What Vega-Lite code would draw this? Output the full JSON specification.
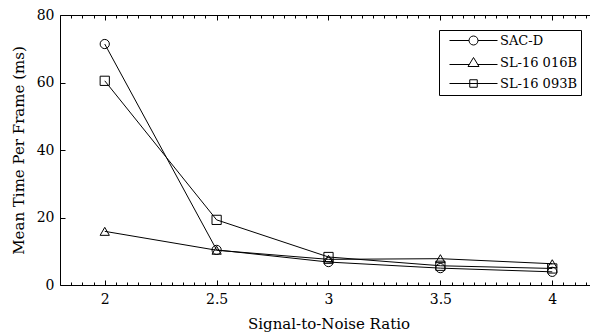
{
  "$schema": "https://vega.github.io/schema/vega-lite/v6.json",
  "autosize": {"type": "none"},
  "padding": {"left": 60, "top": 15, "right": 0, "bottom": 48},
  "width": 537,
  "height": 270,
  "background": "white",
  "config": {
    "view": {"stroke": null},
    "font": "DejaVu Serif",
    "axis": {
      "domainColor": "black",
      "domainWidth": 1,
      "tickColor": "black",
      "tickWidth": 1,
      "grid": false,
      "labelFont": "DejaVu Serif",
      "labelFontSize": 14,
      "labelColor": "black",
      "titleFont": "DejaVu Serif",
      "titleFontSize": 15,
      "titleFontWeight": "normal",
      "titleColor": "black"
    },
    "legend": {
      "labelFont": "DejaVu Serif"
    }
  },
  "data": {
    "values": [
      {"snr": 2, "series": "SAC-D", "time": 71.4},
      {"snr": 2.5, "series": "SAC-D", "time": 10.4},
      {"snr": 3, "series": "SAC-D", "time": 6.8},
      {"snr": 3.5, "series": "SAC-D", "time": 5.0},
      {"snr": 4, "series": "SAC-D", "time": 3.9},
      {"snr": 2, "series": "SL-16 016B", "time": 15.9},
      {"snr": 2.5, "series": "SL-16 016B", "time": 10.3},
      {"snr": 3, "series": "SL-16 016B", "time": 7.6},
      {"snr": 3.5, "series": "SL-16 016B", "time": 7.8},
      {"snr": 4, "series": "SL-16 016B", "time": 6.3},
      {"snr": 2, "series": "SL-16 093B", "time": 60.5},
      {"snr": 2.5, "series": "SL-16 093B", "time": 19.3},
      {"snr": 3, "series": "SL-16 093B", "time": 8.3},
      {"snr": 3.5, "series": "SL-16 093B", "time": 5.7},
      {"snr": 4, "series": "SL-16 093B", "time": 4.9}
    ]
  },
  "layer": [
    {
      "mark": {"type": "line", "color": "black", "strokeWidth": 1},
      "encoding": {
        "x": {
          "field": "snr", "type": "quantitative",
          "scale": {"domain": [1.8, 4.2], "nice": false, "zero": false},
          "axis": {
            "orient": "bottom",
            "title": "Signal-to-Noise Ratio",
            "values": [2, 2.5, 3, 3.5, 4],
            "format": "~g",
            "tickSize": -5,
            "labelPadding": 12,
            "labelFlush": false,
            "titlePadding": 10
          }
        },
        "y": {
          "field": "time", "type": "quantitative",
          "scale": {"domain": [0, 80], "nice": false},
          "axis": {
            "orient": "left",
            "title": "Mean Time Per Frame (ms)",
            "values": [0, 20, 40, 60, 80],
            "tickSize": -5,
            "labelPadding": 11,
            "titlePadding": 10
          }
        },
        "detail": {"field": "series"}
      }
    },
    {
      "mark": {"type": "point", "filled": false, "color": "black", "strokeWidth": 1, "opacity": 1},
      "encoding": {
        "x": {
          "field": "snr", "type": "quantitative",
          "scale": {"domain": [1.8, 4.2], "nice": false, "zero": false},
          "axis": {"orient": "top", "title": null, "labels": false, "values": [2, 2.5, 3, 3.5, 4], "tickSize": -5}
        },
        "y": {
          "field": "time", "type": "quantitative",
          "scale": {"domain": [0, 80], "nice": false},
          "axis": {"orient": "right", "title": null, "labels": false, "values": [0, 20, 40, 60, 80], "tickSize": -5}
        },
        "shape": {
          "field": "series", "type": "nominal",
          "scale": {"domain": ["SAC-D", "SL-16 016B", "SL-16 093B"], "range": ["circle", "triangle-up", "square"]},
          "legend": null
        },
        "size": {"value": 85}
      }
    },
    {
      "mark": {"type": "point", "filled": false, "color": "black", "strokeWidth": 1, "opacity": 0},
      "encoding": {
        "x": {
          "field": "snr", "type": "quantitative",
          "scale": {"domain": [1.8, 4.2], "nice": false, "zero": false},
          "axis": {
            "orient": "bottom", "title": null, "labels": false, "domain": false, "tickSize": -3,
            "values": [1.85,1.9,1.95,2.05,2.1,2.15,2.2,2.25,2.3,2.35,2.4,2.45,2.55,2.6,2.65,2.7,2.75,2.8,2.85,2.9,2.95,3.05,3.1,3.15,3.2,3.25,3.3,3.35,3.4,3.45,3.55,3.6,3.65,3.7,3.75,3.8,3.85,3.9,3.95,4.05,4.1,4.15]
          }
        },
        "y": {
          "field": "time", "type": "quantitative",
          "scale": {"domain": [0, 80], "nice": false},
          "axis": null
        },
        "shape": {
          "field": "series", "type": "nominal",
          "scale": {
            "domain": ["SAC-D", "SL-16 016B", "SL-16 093B"],
            "range": [
              "M-4.8,0H-0.9M0.9,0H4.8M0.9,0A0.9,0.9 0 1,1 -0.9,0A0.9,0.9 0 1,1 0.9,0",
              "M-4.8,0.4H-0.8M0.8,0.4H4.8M0,-1L1.1,0.8L-1.1,0.8Z",
              "M-4.8,0H4.8M-0.75,-0.75H0.75V0.75H-0.75Z"
            ]
          },
          "legend": {
            "title": null,
            "orient": "none",
            "legendX": 379,
            "legendY": 15,
            "strokeColor": "black",
            "fillColor": "white",
            "padding": 4,
            "symbolSize": 100,
            "symbolOffset": 24,
            "labelOffset": 20,
            "labelFontSize": 13,
            "labelColor": "black",
            "rowPadding": 7,
            "symbolOpacity": 1,
            "symbolStrokeColor": "black",
            "symbolFillColor": "transparent",
            "symbolStrokeWidth": 1
          }
        },
        "size": {"value": 100}
      }
    },
    {
      "mark": {"type": "point", "opacity": 0},
      "encoding": {
        "x": {
          "field": "snr", "type": "quantitative",
          "scale": {"domain": [1.8, 4.2], "nice": false, "zero": false},
          "axis": {
            "orient": "top", "title": null, "labels": false, "domain": false, "tickSize": -3,
            "values": [1.85,1.9,1.95,2.05,2.1,2.15,2.2,2.25,2.3,2.35,2.4,2.45,2.55,2.6,2.65,2.7,2.75,2.8,2.85,2.9,2.95,3.05,3.1,3.15,3.2,3.25,3.3,3.35,3.4,3.45,3.55,3.6,3.65,3.7,3.75,3.8,3.85,3.9,3.95,4.05,4.1,4.15]
          }
        },
        "y": {
          "field": "time", "type": "quantitative",
          "scale": {"domain": [0, 80], "nice": false},
          "axis": null
        }
      }
    }
  ],
  "resolve": {"axis": {"x": "independent", "y": "independent"}, "scale": {"shape": "independent"}}
}
